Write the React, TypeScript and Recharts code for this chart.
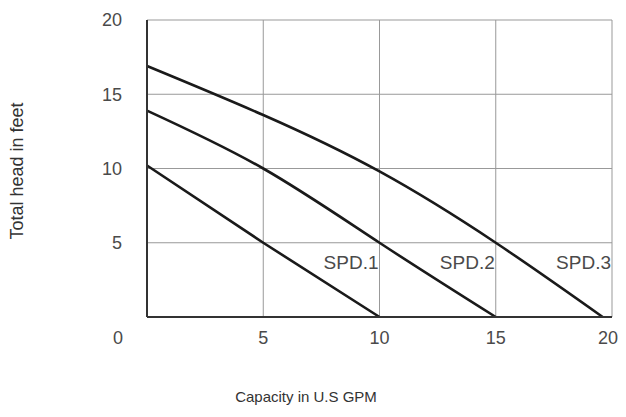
import React from 'react';
import { LineChart, Line, XAxis, YAxis, CartesianGrid, ReferenceDot, Label } from 'recharts';

// pump curves: capacity (U.S GPM) vs total head (feet)
const spd1Capacity = [0, 5, 10];
const spd1Head = [10.2, 5, 0];
const spd2Capacity = [0, 5, 10, 15];
const spd2Head = [13.9, 10, 5, 0];
const spd3Capacity = [0, 5, 10, 15, 19.6];
const spd3Head = [16.9, 13.6, 9.8, 5, 0];

const xTicks = [0, 5, 10, 15, 20];
const yTicks = [0, 5, 10, 15, 20];

// curve names sit just left of the gridline they end on
const speedLabels = ['SPD.1', 'SPD.2', 'SPD.3'];
const labelCapacity = [10, 15, 20];
const labelHead = [3.7, 3.7, 3.7];

const toPoints = (xs: number[], ys: number[]) => xs.map((x, i) => ({ capacity: x, head: ys[i] }));

const FONT = '"Liberation Sans", Arial, sans-serif';
const TEXT = '#4a4a4a';
const TICK_SIZE = 18;

// the 0 sits out at the corner, the last label is pulled in from the edge
const xTickShift = (v: number) => (v === 0 ? -29 : v === 20 ? -4 : 0);

const XTick = ({ x, y, payload }: any) => (
  <text x={x + xTickShift(payload.value)} y={y} dy="0.71em" textAnchor="middle" fill={TEXT} fontSize={TICK_SIZE} fontFamily={FONT}>
    {payload.value}
  </text>
);

const YTick = ({ x, y, payload }: any) =>
  payload.value === 0 ? null : (
    <text x={x} y={y} dy="0.355em" textAnchor="end" fill={TEXT} fontSize={TICK_SIZE} fontFamily={FONT}>
      {payload.value}
    </text>
  );

export default function App() {
  const series = [
    { name: 'spd1', data: toPoints(spd1Capacity, spd1Head), type: 'linear' as const },
    { name: 'spd2', data: toPoints(spd2Capacity, spd2Head), type: 'natural' as const },
    { name: 'spd3', data: toPoints(spd3Capacity, spd3Head), type: 'natural' as const },
  ];

  // cancel the body margin so chart pixels line up with the page
  return (
    <div style={{ position: 'relative', width: 626, height: 417, margin: -8, fontFamily: FONT }}>
      <LineChart width={626} height={417} margin={{ top: 20, right: 14, bottom: 70, left: 87 }}>
        <CartesianGrid stroke="#999" strokeWidth={1} />
        <XAxis
          type="number"
          dataKey="capacity"
          domain={[0, 20]}
          ticks={xTicks}
          tick={<XTick />}
          tickSize={0}
          tickMargin={14}
          axisLine={{ stroke: '#333', strokeWidth: 2 }}
          height={30}
        />
        <YAxis
          type="number"
          dataKey="head"
          domain={[0, 20]}
          ticks={yTicks}
          tick={<YTick />}
          tickSize={0}
          tickMargin={25}
          axisLine={{ stroke: '#333', strokeWidth: 2 }}
          width={60}
        />
        {series.map((s) => (
          <Line
            key={s.name}
            data={s.data}
            dataKey="head"
            type={s.type}
            stroke="#1a1a1a"
            strokeWidth={2.6}
            dot={false}
            isAnimationActive={false}
          />
        ))}
        {speedLabels.map((lbl, i) => (
          <ReferenceDot key={lbl} x={labelCapacity[i]} y={labelHead[i]} r={0} fill="none" stroke="none">
            <Label value={lbl} position="left" offset={1} fill={TEXT} fontSize={19} fontFamily={FONT} />
          </ReferenceDot>
        ))}
      </LineChart>
      <div
        style={{
          position: 'absolute',
          left: 17,
          top: 171,
          transform: 'translate(-50%, -50%) rotate(-90deg)',
          whiteSpace: 'nowrap',
          fontSize: 18,
          color: '#333',
        }}
      >
        Total head in feet
      </div>
      <div
        style={{
          position: 'absolute',
          left: 306,
          top: 396,
          transform: 'translate(-50%, -50%)',
          whiteSpace: 'nowrap',
          fontSize: 15,
          color: '#333',
        }}
      >
        Capacity in U.S GPM
      </div>
    </div>
  );
}
